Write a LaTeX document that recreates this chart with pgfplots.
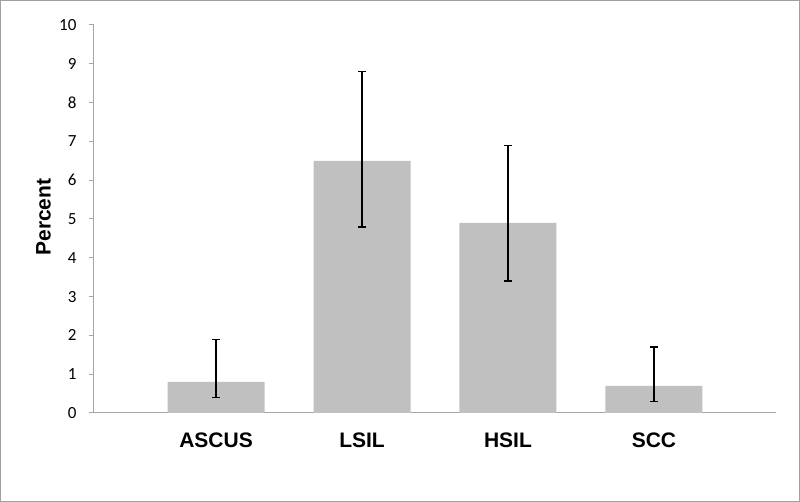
\documentclass[border=0pt]{standalone}
\usepackage{fontspec}
\setmainfont{Liberation Sans}
\newfontfamily\tickfont{Carlito}
\usepackage{pgfplots}
\usepackage{pgfplotstable}
\pgfplotsset{compat=1.18}
\definecolor{bargray}{HTML}{C0C0C0}
\definecolor{axisgray}{HTML}{A6A6A6}
\definecolor{framegray}{HTML}{A0A0A0}

\pgfplotstableread{
x  y    ep   em
0  0.8  1.1  0.4
1  6.5  2.3  1.7
2  4.9  2.0  1.5
3  0.7  1.0  0.4
}\cytodata

\begin{document}
\begin{tikzpicture}
  \begin{axis}[
    scale only axis, width=682pt, height=388pt,
    xmin=-0.836, xmax=3.836, ymin=0, ymax=10,
    ytick={0,...,10},
    xtick=data, xticklabels={ASCUS,LSIL,HSIL,SCC},
    axis x line*=bottom, axis y line*=left,
    axis line style={-, axisgray, line width=1pt},
    ybar, bar width=97pt,
    tick align=outside, major tick length=5pt,
    ytick style={axisgray, line width=1pt},
    xtick style={draw=none},
    /pgf/number format/assume math mode=true,
    yticklabel style={font=\tickfont\fontsize{17}{17}\selectfont, xshift=-9pt},
    xticklabel style={font=\bfseries\fontsize{21}{21}\selectfont, yshift=-11pt},
    ylabel={Percent},
    ylabel style={font=\bfseries\fontsize{21}{21}\selectfont,
      at={(axis description cs:-0.074,0.505)}, anchor=center},
    clip=false,
  ]
    \addplot[fill=bargray, draw=none,
      error bars/.cd, y dir=both, y explicit,
      error bar style={black, line width=1.5pt},
      error mark options={black, rotate=90, mark size=4pt, line width=1.5pt}]
      table[x=x, y=y, y error plus=ep, y error minus=em] {\cytodata};
  \end{axis}
  \draw[framegray, line width=1pt] (-93.5pt,-88.5pt) rectangle (705.5pt,412.5pt);
\end{tikzpicture}
\end{document}
